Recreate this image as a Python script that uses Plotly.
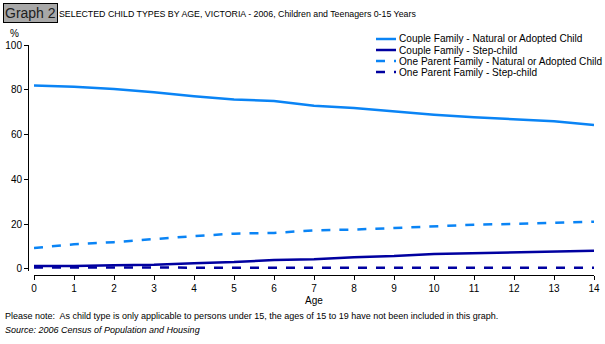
import plotly.graph_objects as go

ages = list(range(15))

couple_natural = [81.9, 81.3, 80.3, 78.9, 77.1, 75.6, 75.0, 72.9, 71.8, 70.3, 68.8, 67.7, 66.7, 65.9, 64.3]
couple_step = [1.2, 1.2, 1.6, 1.8, 2.5, 3.0, 3.9, 4.3, 5.2, 5.7, 6.6, 7.0, 7.5, 7.9, 8.0]
one_parent_natural = [9.3, 10.9, 11.9, 13.3, 14.6, 15.7, 16.0, 17.2, 17.5, 18.2, 19.0, 19.7, 20.0, 20.6, 21.0]
one_parent_step = [0.6, 0.5, 0.5, 0.5, 0.5, 0.5, 0.5, 0.5, 0.5, 0.5, 0.5, 0.5, 0.5, 0.5, 0.5]

LIGHT = "#0A84F5"
DARK = "#0000A0"
FONT = "Liberation Sans, Arial, sans-serif"

series = [
    ("Couple Family - Natural or Adopted Child", couple_natural, LIGHT, "solid"),
    ("Couple Family - Step-child", couple_step, DARK, "solid"),
    ("One Parent Family - Natural or Adopted Child", one_parent_natural, LIGHT, "dash"),
    ("One Parent Family - Step-child", one_parent_step, DARK, "dash"),
]

# plot paper spans x 28..594, y 45..275 px
L, R, T, B = 28, 11, 45, 69
PW, PH = 605 - L - R, 344 - T - B


def px(x):
    return (x - L) / PW


def py(y):
    return (T + PH - y) / PH


fig = go.Figure()
for name, vals, color, dash in series:
    fig.add_trace(go.Scatter(x=ages, y=vals, mode="lines", name=name, showlegend=False,
                             line=dict(color=color, width=2.5, dash=dash)))

fig.update_layout(
    width=605, height=344,
    margin=dict(l=L, r=R, t=T, b=B, autoexpand=False),
    paper_bgcolor="white", plot_bgcolor="white",
    font=dict(family=FONT, size=10, color="black"),
    showlegend=False,
    xaxis=dict(range=[0, 14], domain=[px(34), 1], anchor="free", position=0,
               tickmode="linear", dtick=1, showgrid=False, zeroline=False,
               showline=True, linecolor="black", linewidth=1,
               ticks="outside", ticklen=4, tickcolor="black", automargin=False,
               title=dict(text="Age", font=dict(size=10), standoff=3)),
    yaxis=dict(range=[-1, 100], domain=[py(271), 1], anchor="free", position=0,
               tickvals=[0, 20, 40, 60, 80, 100], showgrid=False, zeroline=False,
               showline=True, linecolor="black", linewidth=1, automargin=False,
               ticks="outside", ticklen=4, tickcolor="black"),
)

# custom legend (compact rows as in the reference)
for i, (name, vals, color, dash) in enumerate(series):
    yy = py(39 + 11 * i)
    fig.add_shape(type="line", xref="paper", yref="paper", x0=px(376), x1=px(396), y0=yy, y1=yy,
                  line=dict(color=color, width=2.5, dash="dash" if dash == "dash" else "solid"))
    fig.add_annotation(text=name, xref="paper", yref="paper", x=px(397), y=yy,
                       xanchor="left", yanchor="middle", showarrow=False,
                       font=dict(size=10.1))

fig.add_annotation(text="Graph 2", xref="paper", yref="paper", x=px(3), y=py(3),
                   xanchor="left", yanchor="top", showarrow=False,
                   font=dict(size=14, color="#202020"), bgcolor="#A8A8A8",
                   bordercolor="black", borderwidth=1, borderpad=1)
fig.add_annotation(text="SELECTED CHILD TYPES BY AGE, VICTORIA - 2006, Children and Teenagers 0-15 Years",
                   xref="paper", yref="paper", x=px(57), y=py(14),
                   xanchor="left", yanchor="middle", showarrow=False, font=dict(size=8.8))
fig.add_annotation(text="%", xref="paper", yref="paper", x=px(14), y=py(33),
                   xanchor="center", yanchor="middle", showarrow=False, font=dict(size=10))
fig.add_annotation(text="Please note:  As child type is only applicable to persons under 15, the ages of 15 to 19 have not been included in this graph.",
                   xref="paper", yref="paper", x=px(3), y=py(316),
                   xanchor="left", yanchor="middle", showarrow=False, font=dict(size=9))
fig.add_annotation(text="<i>Source: 2006 Census of Population and Housing</i>",
                   xref="paper", yref="paper", x=px(3), y=py(330),
                   xanchor="left", yanchor="middle", showarrow=False, font=dict(size=9))

fig.write_html("out.html", config={"displayModeBar": False},
               post_script="document.body.style.margin='0';")
